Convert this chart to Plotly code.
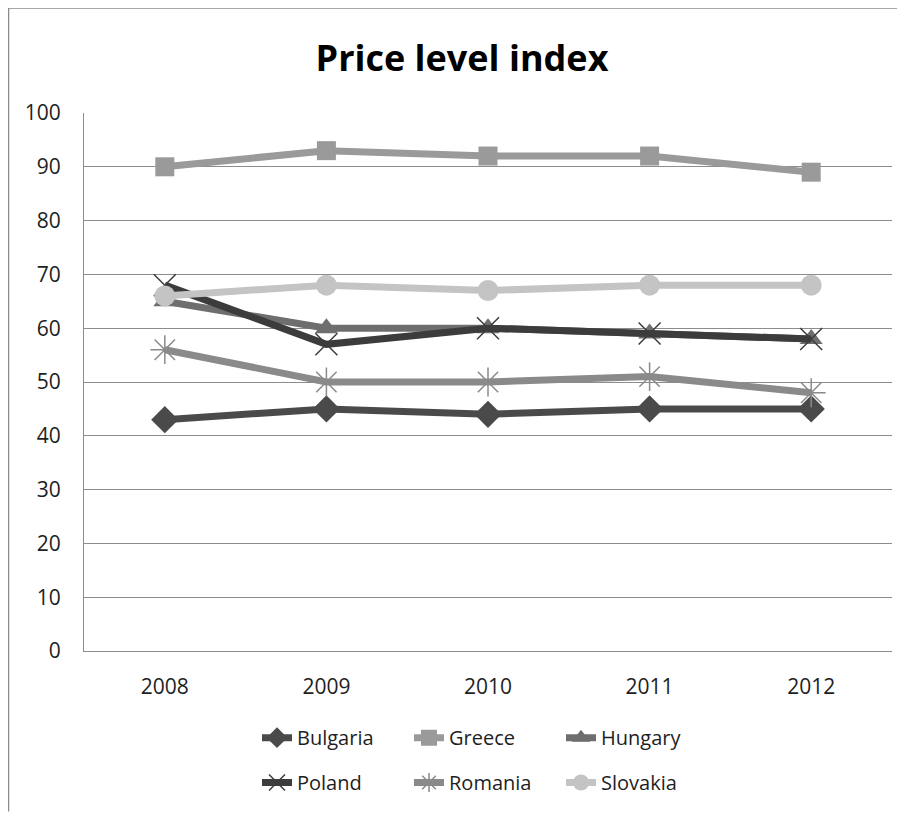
import plotly.graph_objects as go

years = ["2008", "2009", "2010", "2011", "2012"]
bulgaria = [43, 45, 44, 45, 45]
greece = [90, 93, 92, 92, 89]
hungary = [65, 60, 60, 59, 58]
poland = [68, 57, 60, 59, 58]
romania = [56, 50, 50, 51, 48]
slovakia = [66, 68, 67, 68, 68]

series = [
    ("Bulgaria", bulgaria, "#4a4a4a", "diamond", 21, "legend"),
    ("Greece", greece, "#9a9a9a", "square", 19, "legend"),
    ("Hungary", hungary, "#6e6e6e", "triangle-up", 20, "legend"),
    ("Poland", poland, "#3c3c3c", "x-thin-open", 22, "legend2"),
    ("Romania", romania, "#8a8a8a", "asterisk-open", 24, "legend2"),
    ("Slovakia", slovakia, "#c4c4c4", "circle", 21, "legend2"),
]

FONT = "'Open Sans', Lato, sans-serif"

fig = go.Figure()
for name, vals, col, sym, sz, lg in series:
    thin = sym.endswith("open")
    fig.add_trace(go.Scatter(
        x=years, y=vals, name=name, mode="lines+markers",
        line=dict(color=col, width=7),
        marker=dict(symbol=sym, size=sz, color=col,
                    line=dict(color=col, width=1.5 if thin else 0)),
        legend=lg,
    ))

# page has an 8px body margin; work in page pixels and convert
OFF = 8
W, H = 905 - OFF, 814 - OFF
PL, PR, PT, PB = 84, 892, 113, 653  # plot area in page pixels
L, T = PL - OFF, PT - OFF
R, B = W - (PR - OFF), H - (PB - OFF)
pw, ph = W - L - R, H - T - B

def px2x(px):
    return (px - PL) / pw

def px2y(py):
    return (PB - py) / ph

fig.update_layout(
    width=W, height=H,
    margin=dict(l=L, r=R, t=T, b=B),
    paper_bgcolor="white", plot_bgcolor="white",
    font=dict(family=FONT, size=21, color="#1e1e1e"),
    title=dict(text="<b>Price level index</b>", x=(462 - OFF) / W, xanchor="center",
               y=1 - (58 - OFF) / H, yanchor="middle",
               font=dict(family=FONT, size=36, color="#000000")),
    xaxis=dict(type="category", range=[-0.5, 4.5], showgrid=False,
               showline=True, linecolor="#8c8c8c", linewidth=1,
               ticks="", ticklabelstandoff=17,
               tickfont=dict(size=21, color="#1e1e1e")),
    yaxis=dict(range=[0, 100], dtick=10, tick0=0, showgrid=True,
               gridcolor="#8c8c8c", gridwidth=1,
               showline=True, linecolor="#8c8c8c", linewidth=1,
               zeroline=False, ticks="", ticklabelstandoff=18,
               tickfont=dict(size=21, color="#1e1e1e")),
    legend=dict(orientation="h", x=px2x(257), y=px2y(740), yanchor="middle",
                xanchor="left", entrywidth=107, entrywidthmode="pixels",
                font=dict(family=FONT, size=20, color="#1e1e1e"),
                bgcolor="rgba(0,0,0,0)", tracegroupgap=0),
    legend2=dict(orientation="h", x=px2x(257), y=px2y(785), yanchor="middle",
                 xanchor="left", entrywidth=107, entrywidthmode="pixels",
                 font=dict(family=FONT, size=20, color="#1e1e1e"),
                 bgcolor="rgba(0,0,0,0)", tracegroupgap=0),
    showlegend=True,
    shapes=[
        dict(type="line", xref="paper", yref="paper",
             x0=px2x(8.5), x1=px2x(8.5), y0=px2y(814), y1=px2y(7),
             line=dict(color="#8a8a8a", width=1.5)),
        dict(type="line", xref="paper", yref="paper",
             x0=px2x(8), x1=px2x(905), y0=px2y(7.5), y1=px2y(7.5),
             line=dict(color="#8a8a8a", width=1.5)),
    ],
)

fig.write_html("out.html")
